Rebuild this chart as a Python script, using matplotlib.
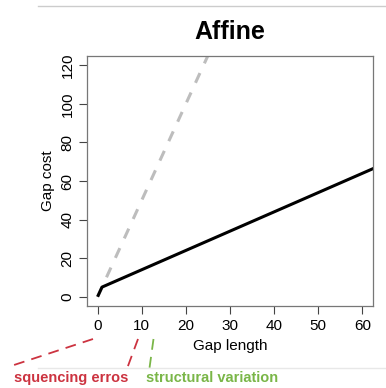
import matplotlib
matplotlib.use("Agg")
import matplotlib.pyplot as plt
import numpy as np
from matplotlib.lines import Line2D

plt.rcParams['font.family'] = ['Liberation Sans', 'DejaVu Sans']

# affine gap cost: open + extend * length, vs. linear cost
gap_open = 4
gap_extend = 1
linear_slope = 5
gap_length = np.array([0, 1, 70])
affine_cost = np.where(gap_length == 0, 0, gap_open + gap_extend * gap_length)
linear_length = np.array([0, 30])
linear_cost = linear_slope * linear_length

x_ticks = [0, 10, 20, 30, 40, 50, 60]
y_ticks = [0, 20, 40, 60, 80, 100, 120]

W, H = 386, 388
fig = plt.figure(figsize=(W / 100, H / 100), dpi=100)
ax = fig.add_axes([87 / W, 1 - 306 / H, (373 - 87) / W, (306 - 56) / H])

ax.plot(linear_length, linear_cost, color="#bdbdbd", lw=2.2, ls=(0, (3.5, 3.5)))
ax.plot(gap_length, affine_cost, color="black", lw=2.2, solid_capstyle="butt")

ax.set_xlim(-2.4, 62.4)
ax.set_ylim(-4.8, 124.8)
ax.set_xticks(x_ticks)
ax.set_yticks(y_ticks)
ax.tick_params(direction="out", length=6, width=0.8, color="#444444",
               labelsize=11, pad=3)
for lab in ax.get_yticklabels():
    lab.set_rotation(90)
    lab.set_va("center")
for s in ax.spines.values():
    s.set_color("#777777")
    s.set_linewidth(0.9)

ax.set_xlabel("Gap length", fontsize=11, labelpad=5)
ax.set_ylabel("Gap cost", fontsize=11, labelpad=4)
ax.set_title("Affine", fontsize=18, fontweight="bold", pad=12)

# slide decorations and annotations (pixel coords)
def fig_line(x, y, **kw):
    fig.add_artist(Line2D([v / W for v in x], [1 - v / H for v in y],
                          transform=fig.transFigure, **kw))

fig_line([38, 386], [6, 6], color="#cccccc", lw=1)
fig_line([38, 386], [367.5, 367.5], color="#e8e8e8", lw=1)

red = "#cc3340"
green = "#7ab648"
fig_line([93, 14], [339, 365], color=red, lw=1.3, ls=(0, (6, 4)))
fig_line([138, 126.5], [339, 370], color=red, lw=1.3, ls=(0, (6, 4)))
fig_line([153.5, 149.5], [339, 368], color=green, lw=1.3, ls=(0, (6, 4)))

fig.text(14 / W, 1 - 378 / H, "squencing erros", color=red, fontsize=10.5,
         fontweight="bold", va="center", ha="left")
fig.text(146.5 / W, 1 - 378 / H, "structural variation", color=green,
         fontsize=10.5, fontweight="bold", va="center", ha="left")

fig.savefig("out.png", dpi=100)
